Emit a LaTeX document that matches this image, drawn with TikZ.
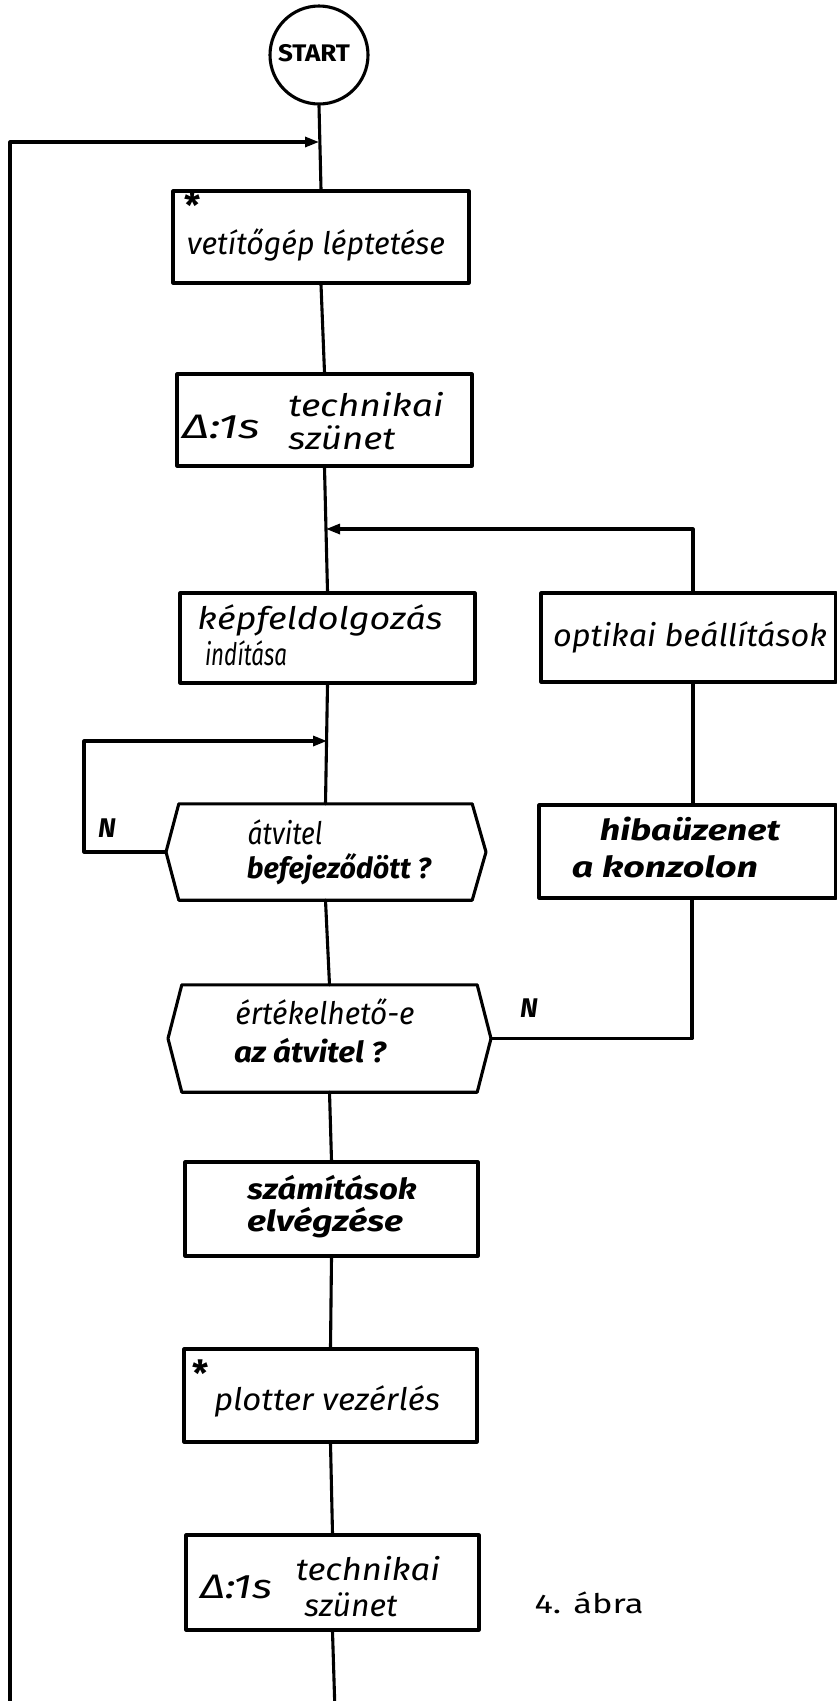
\documentclass[tikz,border=0pt]{standalone}
\usepackage{fontspec}
\setmainfont{Fira Sans}
\usetikzlibrary{arrows.meta}
\newcommand\hw[2]{\resizebox{#1}{\height}{#2}}
\begin{document}
\begin{tikzpicture}[x=1pt,y=-1pt,
  ln/.style={line width=3.1pt, line cap=round, line join=round},
  box/.style={draw, ln, rectangle, inner sep=0pt},
  hexin/.style={rectangle, inner sep=0pt},
  txt/.style={inner sep=0pt, font=\fontsize{31}{34}\selectfont\itshape},
  btxt/.style={inner sep=0pt, font=\fontsize{29}{32}\selectfont\bfseries\itshape},
  dtxt/.style={inner sep=0pt, font=\fontsize{34}{36}\selectfont\itshape},
  ntxt/.style={inner sep=0pt, font=\fontsize{27}{30}\selectfont\bfseries\itshape},
  asttxt/.style={inner sep=0pt, font=\fontsize{36}{36}\selectfont\bfseries},
  arr/.style={ln, -{Triangle[length=14pt,width=10pt]}},
]
\useasboundingbox (0,0) rectangle (837,1701);

% nodes
\node[circle, draw, ln, minimum size=98pt, inner sep=0pt] (start) at (319,55) {};
\node[inner sep=0pt, font=\fontsize{24}{26}\selectfont\bfseries] (starttxt) at (314,53) {\hw{72pt}{START}};

\node[box, minimum width=296pt, minimum height=92pt] (b1) at (321,237) {};
\node[box, minimum width=295pt, minimum height=92pt] (b2) at (324.5,420) {};
\node[box, minimum width=295pt, minimum height=90pt] (b3) at (327.5,638) {};
\node[box, minimum width=295pt, minimum height=89pt] (opt) at (688.5,637.5) {};
\node[box, minimum width=297pt, minimum height=93pt] (hib) at (687.5,851.5) {};
\node[hexin, minimum width=293pt, minimum height=96pt] (h1) at (325.5,852) {};
\node[hexin, minimum width=295pt, minimum height=107pt] (h2) at (329.5,1038.5) {};
\node[box, minimum width=293pt, minimum height=94pt] (b4) at (331.5,1209) {};
\node[box, minimum width=293pt, minimum height=93pt] (b5) at (330.5,1395.5) {};
\node[box, minimum width=293pt, minimum height=95pt] (b6) at (332.5,1582.5) {};

% hexagon tips and outlines
\coordinate (h1l) at (166,852);
\coordinate (h1r) at (486,852);
\coordinate (h2l) at (168,1038.5);
\coordinate (h2r) at (491,1038.5);
\draw[ln] (h1.north west) -- (h1.north east) -- (h1r) -- (h1.south east) -- (h1.south west) -- (h1l) -- cycle;
\draw[ln] (h2.north west) -- (h2.north east) -- (h2r) -- (h2.south east) -- (h2.south west) -- (h2l) -- cycle;

% texts
\node[asttxt] (ast1) at (193,205) {*};
\node[txt] (t1) at (316,245) {\hw{258pt}{vetítőgép léptetése}};

\node[dtxt] (d1) at (221,427) {\hw{78pt}{Δ:1s}};
\node[txt] (t2a) at (366,405) {\hw{155pt}{technikai}};
\node[txt] (t2b) at (342,438) {\hw{107pt}{szünet}};

\node[txt] (t3a) at (320,620) {\hw{245pt}{képfeldolgozás}};
\node[txt] (t3b) at (246,653) {\hw{82pt}{indítása}};

\node[txt] (to) at (690,637) {\hw{274pt}{optikai beállítások}};

\node[btxt] (th1) at (690,829) {\hw{180pt}{hibaüzenet}};
\node[btxt] (th2) at (665,867) {\hw{186pt}{a konzolon}};

\node[txt] (tx1) at (285,832) {\hw{75pt}{átvitel}};
\node[btxt] (tx2) at (339,869) {\hw{184pt}{befejeződött ?}};

\node[txt] (ty1) at (325,1012) {\hw{179pt}{értékelhető-e}};
\node[btxt] (ty2) at (310,1051) {\hw{152pt}{az átvitel ?}};

\node[btxt] (tz1) at (332,1188) {\hw{169pt}{számítások}};
\node[btxt] (tz2) at (325,1223) {\hw{156pt}{elvégzése}};

\node[asttxt] (ast2) at (201,1373) {*};
\node[txt] (tp) at (327,1401) {\hw{226pt}{plotter vezérlés}};

\node[dtxt] (d2) at (236,1587) {\hw{72pt}{Δ:1s}};
\node[txt] (t6a) at (368,1569) {\hw{144pt}{technikai}};
\node[txt] (t6b) at (351,1605) {\hw{93pt}{szünet}};

\node[ntxt] (n1) at (107,828) {N};
\node[ntxt] (n2) at (529,1008) {N};

\node[inner sep=0pt, font=\fontsize{27}{29}\selectfont] (fig) at (589,1603) {\hw{109pt}{4. ábra}};

% coordinates
\coordinate (j1) at (319,142);
\coordinate (lt) at (10,142);
\coordinate (lb) at (10,1712);
\coordinate (mb) at (335,1712);
\coordinate (j2) at (326,529);
\coordinate (rc) at (693,529);
\coordinate (j3) at (327,741);
\coordinate (lc1) at (84,741);
\coordinate (lc2) at (84,852);
\coordinate (nc) at (692,1038.5);

% connectors
\draw[ln] (start.south) -- (b1.north);
\draw[arr] (lb) -- (lt) -- (j1);
\draw[ln] (b1.south) -- (b2.north);
\draw[ln] (b2.south) -- (b3.north);
\draw[arr] (opt.north -| rc) -- (rc) -- (j2);
\draw[ln] (hib.north -| rc) -- (opt.south -| rc);
\draw[ln] (b3.south) -- (h1.north);
\draw[arr] (h1l) -- (lc2) -- (lc1) -- (j3);
\draw[ln] (h1.south) -- (h2.north);
\draw[ln] (h2r) -- (nc) -- (hib.south -| nc);
\draw[ln] (h2.south) -- (b4.north);
\draw[ln] (b4.south) -- (b5.north);
\draw[ln] (b5.south) -- (b6.north);
\draw[ln] (b6.south) -- (mb);
\end{tikzpicture}
\end{document}
